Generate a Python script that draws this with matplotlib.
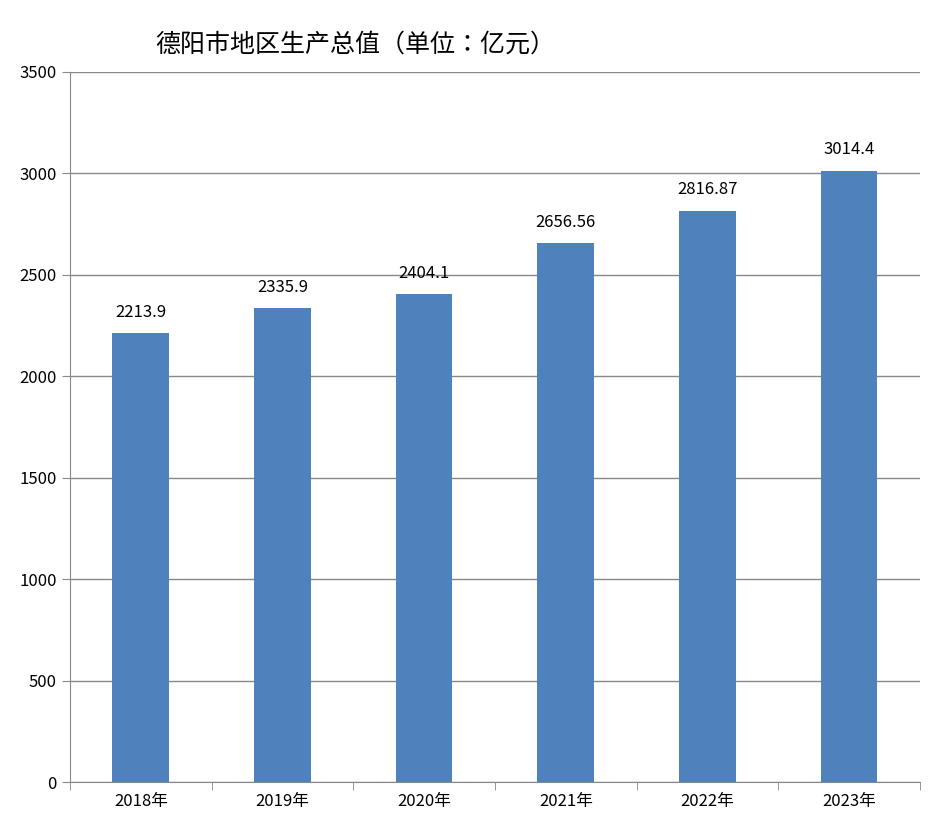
import matplotlib
matplotlib.use("Agg")
import matplotlib.pyplot as plt
import numpy as np

years = ["2018年", "2019年", "2020年", "2021年", "2022年", "2023年"]
gdp = [2213.9, 2335.9, 2404.1, 2656.56, 2816.87, 3014.4]
labels = ["2213.9", "2335.9", "2404.1", "2656.56", "2816.87", "3014.4"]

plt.rcParams["font.family"] = ["Noto Sans CJK JP", "Noto Sans CJK SC", "DejaVu Sans"]

fig = plt.figure(figsize=(9.29, 8.30), dpi=100)
ax = fig.add_axes([70 / 929, 48 / 830, 850 / 929, 710 / 830])

x = np.arange(len(years))
ax.bar(x, gdp, width=0.4, color="#4f81bd", zorder=3)
for xi, v, t in zip(x, gdp, labels):
    ax.text(xi, v + 60, t, ha="center", va="bottom", fontsize=12)

ax.set_xlim(-0.5, len(years) - 0.5)
ax.set_ylim(0, 3500)
ax.set_yticks(range(0, 3501, 500))
ax.set_xticks(x)
ax.set_xticklabels(years, fontsize=12)
ax.set_xticks(np.arange(-0.5, len(years)), minor=True)
ax.tick_params(axis="x", which="major", length=0, pad=8)
ax.tick_params(axis="x", which="minor", length=6, color="#888888")
ax.tick_params(axis="y", length=6, color="#888888", labelsize=12)
ax.grid(axis="y", color="#888888", linewidth=1, zorder=0)
for s in ["top", "right"]:
    ax.spines[s].set_visible(False)
for s in ["left", "bottom"]:
    ax.spines[s].set_color("#888888")

fig.text(155 / 929, 1 - 45 / 830, "德阳市地区生产总值（单位：亿元）",
         fontsize=18, ha="left", va="center")

fig.savefig("out.png", dpi=100)
